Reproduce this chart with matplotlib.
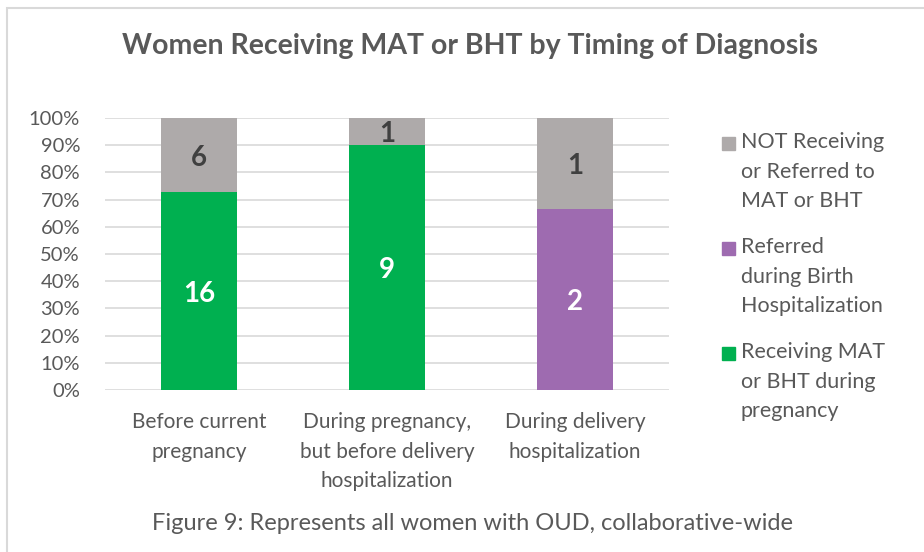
import numpy as np
import matplotlib.pyplot as plt
from matplotlib.patches import Rectangle

plt.rcParams['font.family'] = ['Lato', 'DejaVu Sans']

categories = ['Before current\npregnancy',
              'During pregnancy,\nbut before delivery\nhospitalization',
              'During delivery\nhospitalization']
receiving = [16, 9, 0]
referred = [0, 0, 2]
not_receiving = [6, 1, 1]

series_names = ['Receiving MAT\nor BHT during\npregnancy',
                'Referred\nduring Birth\nHospitalization',
                'NOT Receiving\nor Referred to\nMAT or BHT']
colors = ['#00B050', '#9E6BB0', '#AEAAAA']
label_colors = ['white', 'white', '#404040']
text_col = '#595959'

counts = np.array([receiving, referred, not_receiving], dtype=float)
totals = counts.sum(axis=0)
shares = counts / totals * 100

fig = plt.figure(figsize=(9.24, 5.52), dpi=100)
ax = fig.add_axes([105 / 924, 1 - 390 / 552, 564 / 924, 272 / 552])

x = np.arange(len(categories))
bottom = np.zeros(len(categories))
for i in range(3):
    ax.bar(x, shares[i], 0.4, bottom=bottom, color=colors[i], zorder=3)
    for j in range(len(categories)):
        if counts[i, j] > 0:
            ax.text(x[j], bottom[j] + shares[i, j] / 2 - 1, f'{int(counts[i, j])}',
                    ha='center', va='center', fontsize=20, fontweight='bold',
                    color=label_colors[i], zorder=4)
    bottom += shares[i]

ax.set_xlim(-0.5, 2.5)
ax.set_ylim(0, 100)
ax.set_yticks(np.arange(0, 101, 10))
ax.set_yticklabels([f'{v}%' for v in range(0, 101, 10)])
ax.set_xticks(x)
ax.set_xticklabels(categories, linespacing=1.6)
ax.tick_params(axis='both', length=0, colors=text_col)
ax.tick_params(axis='x', pad=16, labelsize=15)
ax.tick_params(axis='y', pad=18, labelsize=14.5)
ax.grid(axis='y', color='#D9D9D9', linewidth=1.2, zorder=0)
for s in ax.spines.values():
    s.set_visible(False)

# legend, drawn by hand so the swatch sits on the first line
legend_order = [2, 1, 0]
legend_top = [144, 249, 354]
for k, i in enumerate(legend_order):
    y = 1 - legend_top[k] / 552
    fig.add_artist(Rectangle((722 / 924, y - 6 / 552), 13 / 924, 13 / 552,
                             transform=fig.transFigure, color=colors[i]))
    fig.text(741 / 924, y + 12 / 552, series_names[i], ha='left', va='top',
             fontsize=15.5, color=text_col, linespacing=1.6)

fig.text(470 / 924, 1 - 46 / 552, 'Women Receiving MAT or BHT by Timing of Diagnosis',
         ha='center', va='center', fontsize=20.5, fontweight='bold', color=text_col)
fig.text(472 / 924, 1 - 523 / 552, 'Figure 9: Represents all women with OUD, collaborative-wide',
         ha='center', va='center', fontsize=17, color=text_col)

fig.add_artist(Rectangle((7 / 924, -0.1), 1.0, 1 - 8 / 552 + 0.1,
                         transform=fig.transFigure, fill=False,
                         edgecolor='#D9D9D9', linewidth=1.5))

fig.savefig('out.png', dpi=100)
